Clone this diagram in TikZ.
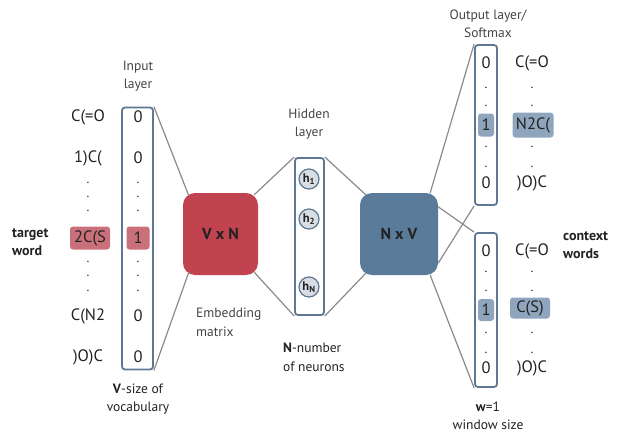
\documentclass[tikz,border=0pt]{standalone}
\usepackage{fontspec}
\setmainfont{PT Sans}
\usetikzlibrary{calc}
\definecolor{frame}{HTML}{5E7893}
\definecolor{wire}{HTML}{8A8A8A}
\definecolor{embred}{HTML}{C0434F}
\definecolor{hired}{HTML}{C9707A}
\definecolor{outblue}{HTML}{5A7B9A}
\definecolor{hiblue}{HTML}{8EA5BD}
\definecolor{ink}{HTML}{222222}
\definecolor{soft}{HTML}{444444}
\definecolor{neuron}{HTML}{D9DEE4}
\tikzset{
  column/.style={draw=frame, line width=1.8pt, rounded corners=3pt, inner sep=0pt},
  matbox/.style={rounded corners=12pt, inner sep=0pt, text=ink, font=\fontsize{16}{18}\selectfont\bfseries},
  wirel/.style={draw=wire, line width=1.2pt},
  entry/.style={text=ink, font=\fontsize{16.5}{18}\selectfont, inner sep=1pt},
  dotl/.style={text=ink, font=\fontsize{13}{15}\selectfont, inner sep=0pt},
  caption/.style={text=soft, font=\fontsize{13.5}{18}\selectfont, align=center, inner sep=0pt},
  capleft/.style={text=soft, font=\fontsize{13.5}{19}\selectfont, align=left, inner sep=0pt, anchor=west},
  side/.style={text=ink, font=\fontsize{14}{18}\selectfont\bfseries, align=left, inner sep=0pt, anchor=west},
  hlred/.style={fill=hired, rounded corners=3pt, inner sep=0pt, text=ink, font=\fontsize{16.5}{18}\selectfont},
  hlblue/.style={fill=hiblue, rounded corners=3pt, inner sep=0pt, text=ink, font=\fontsize{16.5}{18}\selectfont},
  cell/.style={draw=frame, line width=1.2pt, fill=neuron, circle, minimum size=20pt, inner sep=0pt, text=ink, font=\fontsize{12.5}{14}\selectfont\bfseries},
}
\begin{document}
\begin{tikzpicture}[x=1pt,y=-1pt]
\useasboundingbox (0,0) rectangle (619,434);

% ---------- boxes ----------
\node[column, minimum width=31pt, minimum height=262pt] (inp) at (137.5,238.5) {};
\node[matbox, fill=embred, minimum width=75pt, minimum height=82pt] (emb) at (220.5,234) {V x N};
\node[column, minimum width=29pt, minimum height=157pt] (hid) at (309.5,236.5) {};
\node[matbox, fill=outblue, minimum width=78pt, minimum height=82pt] (ctx) at (399,234) {N x V};
\node[column, minimum width=22pt, minimum height=160pt] (out1) at (486,125) {};
\node[column, minimum width=22pt, minimum height=154pt] (out2) at (486,310) {};

% ---------- connectors ----------
\draw[wirel] (inp.north east) -- ($(emb.north west)+(6,3)$);
\draw[wirel] (inp.south east) -- ($(emb.south west)+(6,-3)$);
\draw[wirel] ($(emb.north east)+(-4,2)$) -- (hid.north west);
\draw[wirel] ($(emb.south east)+(-4,-3)$) -- (hid.south west);
\draw[wirel] (hid.north east) -- ($(ctx.north west)+(6,2)$);
\draw[wirel] (hid.south east) -- ($(ctx.south west)+(6,-2)$);
\draw[wirel] ($(ctx.north east)+(-8,0)$) -- (out1.north west);
\draw[wirel] ($(ctx.north east)+(0,14)$) -- (out2.north west);
\draw[wirel] ($(ctx.south east)+(0,-12)$) -- (out1.south west);
\draw[wirel] ($(ctx.south east)+(-8,0)$) -- (out2.south west);

% ---------- input column ----------
\node[entry] (i1) at (138,117) {0};
\node[entry] (i2) at (138,158) {0};
\node[dotl] (id1) at (138,183) {.};
\node[dotl] (id2) at (138,197) {.};
\node[dotl] (id3) at (138,211) {.};
\node[hlred, minimum width=23pt, minimum height=23pt] (i3) at (138,238) {1};
\node[dotl] (id4) at (138,262) {.};
\node[dotl] (id5) at (138,276) {.};
\node[dotl] (id6) at (138,291) {.};
\node[entry] (i4) at (138,316) {0};
\node[entry] (i5) at (138,357) {0};

\node[entry] (w1) at (88,117) {C(=O};
\node[entry] (w2) at (88,158) {1)C(};
\node[dotl] (wd1) at (88,183) {.};
\node[dotl] (wd2) at (88,197) {.};
\node[dotl] (wd3) at (88,211) {.};
\node[hlred, minimum width=40pt, minimum height=23pt] (w3) at (90,238) {2C(S};
\node[dotl] (wd4) at (88,262) {.};
\node[dotl] (wd5) at (88,276) {.};
\node[dotl] (wd6) at (88,291) {.};
\node[entry] (w4) at (88,316) {C(N2};
\node[entry] (w5) at (88,357) {)O)C};

\node[side] (tw) at (12,242) {target\\word};
\node[caption] (inlab) at (138,76) {Input\\layer};
\node[caption, text=ink] (vlab) at (138,399) {\textbf{V}-size of\\vocabulary};

% ---------- hidden layer ----------
\node[cell] (h1) at (309,179) {h\textsubscript{1}};
\node[cell] (h2) at (309,219) {h\textsubscript{2}};
\node[cell] (hn) at (309,287) {h\textsubscript{N}};
\node[caption] (hidlab) at (309,124) {Hidden\\layer};
\node[capleft] (emblab) at (196,322) {Embedding\\matrix};
\node[capleft, text=ink] (nlab) at (283,357) {\textbf{N}-number\\of neurons};

% ---------- output layer (upper) ----------
\node[caption] (outlab) at (488,24) {Output layer/\\Softmax};
\node[entry] (a1) at (486,63) {0};
\node[dotl] (ad1) at (486,88) {.};
\node[dotl] (ad2) at (486,106) {.};
\node[hlblue, minimum width=16pt, minimum height=23pt] (a2) at (486,125) {1};
\node[dotl] (ad3) at (486,147) {.};
\node[dotl] (ad4) at (486,167) {.};
\node[entry] (a3) at (486,183) {0};
\node[entry] (b1) at (532,63) {C(=O};
\node[dotl] (bd1) at (532,88) {.};
\node[dotl] (bd2) at (532,106) {.};
\node[hlblue, minimum width=41pt, minimum height=25pt] (b2) at (533,125) {N2C(};
\node[dotl] (bd3) at (532,147) {.};
\node[dotl] (bd4) at (532,167) {.};
\node[entry] (b3) at (532,183) {)O)C};

% ---------- output layer (lower) ----------
\node[entry] (c1) at (486,251) {0};
\node[dotl] (cd1) at (486,272) {.};
\node[dotl] (cd2) at (486,291) {.};
\node[hlblue, minimum width=16pt, minimum height=22pt] (c2) at (486,310) {1};
\node[dotl] (cd3) at (486,333) {.};
\node[dotl] (cd4) at (486,353) {.};
\node[entry] (c3) at (486,368) {0};
\node[entry] (d1) at (532,251) {C(=O};
\node[dotl] (dd1) at (532,272) {.};
\node[dotl] (dd2) at (532,291) {.};
\node[hlblue, minimum width=40pt, minimum height=21pt] (d2) at (530,308) {C(S)};
\node[dotl] (dd3) at (532,333) {.};
\node[dotl] (dd4) at (532,353) {.};
\node[entry] (d3) at (532,368) {)O)C};

\node[side] (cw) at (563,245) {context\\words};
\node[caption, text=ink] (wlab) at (488,416) {\textbf{w}=1\\window size};
\end{tikzpicture}
\end{document}
